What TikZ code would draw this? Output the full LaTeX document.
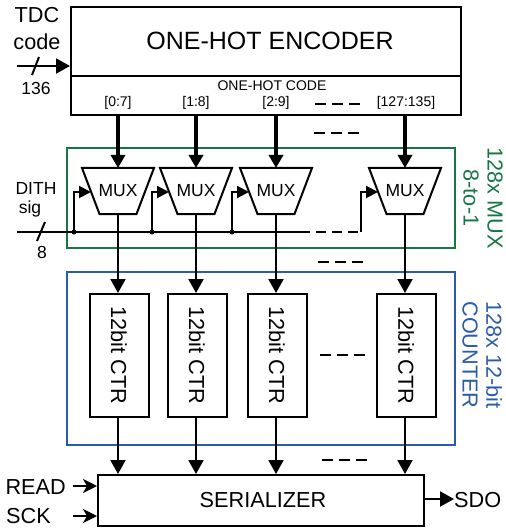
\documentclass[tikz,border=0pt]{standalone}
\usepackage{fontspec}
\setmainfont{Liberation Sans}
\usetikzlibrary{arrows.meta,calc}
\definecolor{mgreen}{RGB}{22,118,68}
\definecolor{mblue}{RGB}{42,92,168}
\tikzset{
  ln/.style={line width=2pt},
  box/.style={draw,line width=2pt,inner sep=0pt},
  tri/.style={-{Triangle[length=12pt,width=12pt]}},
  bigarrow/.style={line width=3.8pt,-{Triangle[length=13pt,width=14pt]}},
  sarrow/.style={line width=2pt,-{Triangle[length=14pt,width=15pt]}},
  stl/.style={line width=2pt,-{Stealth[length=14pt,width=14pt,inset=4pt]}},
  dashgrp/.style={line width=2.6pt,dash pattern=on 11pt off 6pt},
  lbl/.style={font=\fontsize{21.7}{23}\selectfont,inner sep=0pt},
  small/.style={font=\fontsize{14}{16}\selectfont,inner sep=0pt},
  mid/.style={font=\fontsize{17.5}{19}\selectfont,inner sep=0pt},
  ctrbox/.style={box,minimum width=59pt,minimum height=123pt},
  jdot/.style={circle,fill,inner sep=0pt,minimum size=5pt}
}
\begin{document}
\begin{tikzpicture}[x=1pt,y=-1pt]
\useasboundingbox (0,0) rectangle (505,529);
% encoder
\node[box,minimum width=390pt,minimum height=108pt] (enc) at (266,61) {};
\draw[ln] (enc.west |- 0,76) -- (enc.east |- 0,76);
\node[font=\fontsize{25}{27}\selectfont,inner sep=0pt] (enct) at (270,41) {ONE-HOT ENCODER};
\node[small] (ohc) at (272,86) {ONE-HOT CODE};
\node[small] (l1) at (118,103) {[0:7]};
\node[small] (l2) at (196,103) {[1:8]};
\node[small] (l3) at (276,103) {[2:9]};
\node[small] (l4) at (406,103) {[127:135]};
\draw[dashgrp] (315,104) -- (361,104);
% TDC input
\node[lbl] (tdc) at (37,15) {TDC};
\node[lbl] (code) at (37,42) {code};
\node[mid] (n136) at (36,88) {136};
\coordinate (tdcin) at (17,66);
\draw[sarrow] (tdcin) -- (enc.west |- tdcin);
\draw[ln] (32,75) -- (39,57);
% group boxes
\draw[mgreen,line width=2pt] (67,148) rectangle (455,248);
\draw[mblue,line width=2pt] (67,272) rectangle (455,445);
\node[lbl,text=mgreen,rotate=-90] (g1) at (495,198) {128x MUX};
\node[lbl,text=mgreen,rotate=-90] (g2) at (471,198) {8-to-1};
\node[lbl,text=mblue,rotate=-90] (b1) at (494,355) {128x 12-bit};
\node[lbl,text=mblue,rotate=-90] (b2) at (470,355) {COUNTER};
% serializer
\node[box,minimum width=326pt,minimum height=51pt] (ser) at (261,500.5) {};
\node[lbl] (sert) at (263,500) {SERIALIZER};
% MUXes and counters
\foreach \n/\x in {1/118,2/196,3/276,4/405}{
  \draw[ln,line join=miter] (\x-36,168) -- (\x+36,168) -- (\x+18.5,214) -- (\x-18.5,214) -- cycle;
  \node[mid] (mux\n) at (\x,191) {MUX};
  \coordinate (mtop\n) at (\x,168);
  \coordinate (mbot\n) at (\x,214);
  \coordinate (min\n) at (\x-27,192);
  \coordinate (br\n) at (\x-44,232);
  \draw[bigarrow] (enc.south -| mtop\n) -- (mtop\n);
  \node[ctrbox] (ctr\n) at (\x+1,355.5) {};
  \node[lbl,rotate=-90] (ctrt\n) at (\x+1,355.5) {12bit CTR};
  \draw[sarrow] (mbot\n) -- (mbot\n |- ctr\n.north);
  \draw[sarrow] (mbot\n |- ctr\n.south) -- (mbot\n |- ser.north);
  \draw[ln,tri] (br\n) |- (min\n);
}
\draw[dashgrp] (314,133) -- (360,133);
\draw[dashgrp] (318,262) -- (364,262);
\draw[dashgrp] (320,355) -- (366,355);
\draw[dashgrp] (322,460) -- (368,460);
% DITH
\node[mid] (dith) at (36,188) {DITH};
\node[mid] (sig) at (30,209) {sig};
\node[mid] (n8) at (42,252) {8};
\coordinate (dithin) at (17,232);
\coordinate (dsol) at (300,232);
\draw[ln] (dithin) -- (dsol);
\draw[ln,dash pattern=on 10pt off 6pt] (dsol) -- (br4);
\draw[ln] (37,241) -- (45,222);
\foreach \n in {1,2,3}{\node[jdot] (d\n) at (br\n) {};}
% READ / SCK / SDO
\node[lbl,anchor=east] (read) at (66,487) {READ};
\node[lbl,anchor=east] (sck) at (51,516) {SCK};
\coordinate (rdin) at (73,486);
\coordinate (sckin) at (73,516);
\draw[stl] (rdin) -- (ser.west |- rdin);
\draw[stl] (sckin) -- (ser.west |- sckin);
\node[lbl,anchor=west] (sdo) at (454,500) {SDO};
\draw[sarrow] (ser.east |- 0,499) -- (sdo.west |- 0,499);
\end{tikzpicture}
\end{document}
